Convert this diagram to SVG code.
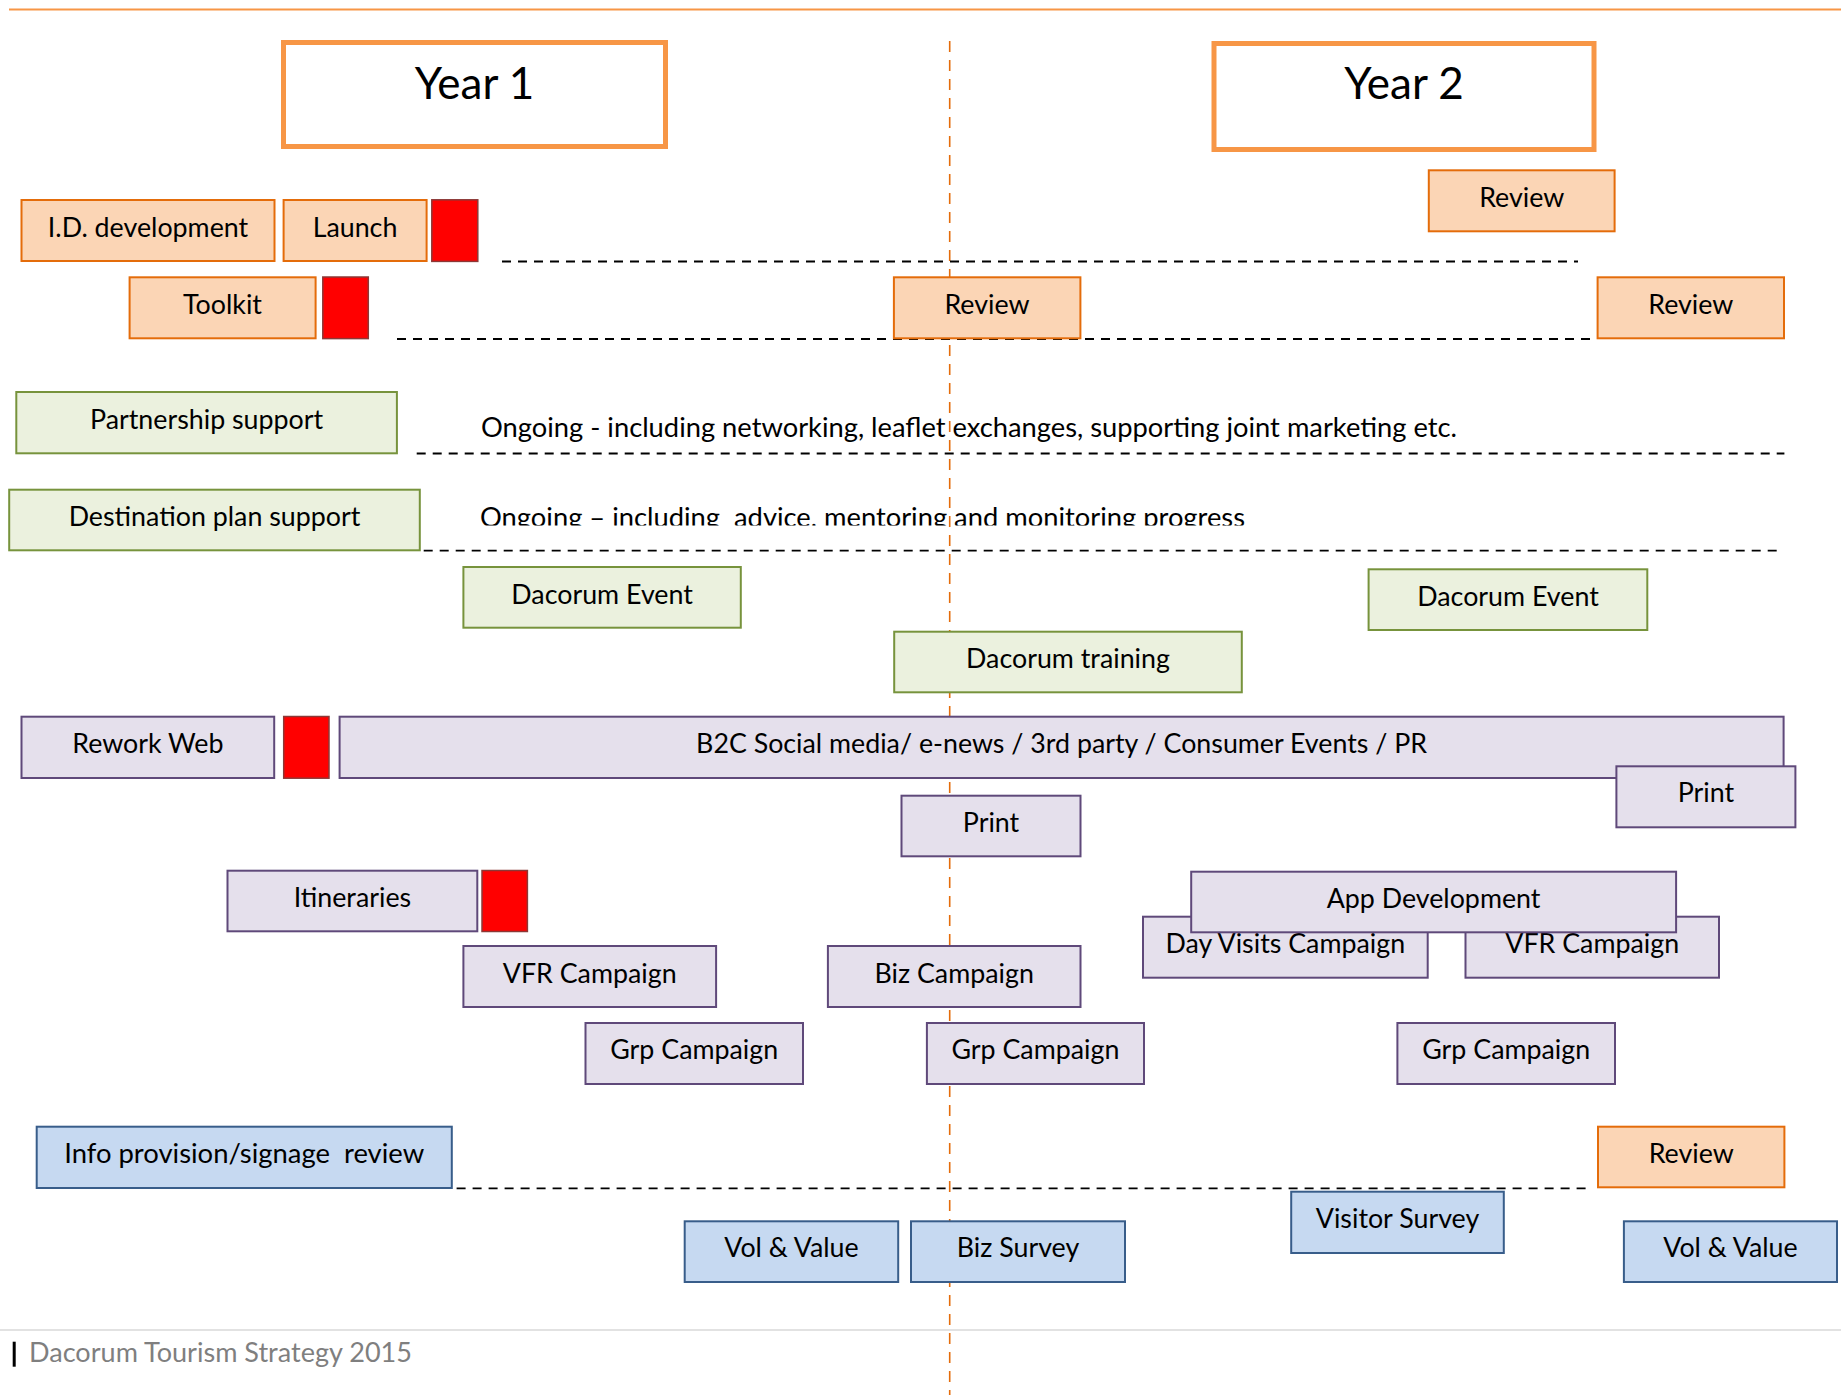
<svg xmlns="http://www.w3.org/2000/svg" width="1841" height="1395" viewBox="0 0 1841 1395">
<style>
.o{fill:#FBD5B5;stroke:#E46C0A;stroke-width:2}
.g{fill:#EBF1DE;stroke:#77933C;stroke-width:2}
.p{fill:#E5E0EC;stroke:#5F497A;stroke-width:2}
.b{fill:#C6D9F1;stroke:#385D8A;stroke-width:2}
.r{fill:#FF0000;stroke:#8C3836;stroke-width:1.5}
.yr{fill:#FFFFFF;stroke:#F79646;stroke-width:5}
.t{font-family:Lato,"Liberation Sans",sans-serif;font-size:26.8px;fill:#000;text-anchor:middle;white-space:pre}
.tl{font-family:Lato,"Liberation Sans",sans-serif;font-size:26.8px;fill:#000;white-space:pre}
.ty{font-family:Lato,"Liberation Sans",sans-serif;font-size:44px;fill:#000;text-anchor:middle}
.d{stroke:#000;stroke-width:1.8;stroke-dasharray:9 7;fill:none}
.v{stroke:#E46C0A;stroke-width:1.6;stroke-dasharray:11 8;fill:none}
</style>
<defs>
<clipPath id="clipOngoing2"><rect x="470" y="480" width="900" height="45.5"/></clipPath>
</defs>
<rect x="0" y="0" width="1841" height="1395" fill="#FFFFFF"/>
<line x1="9" y1="9.5" x2="1841" y2="9.5" stroke="#F79646" stroke-width="2"/>
<line x1="949.7" y1="41" x2="949.7" y2="1395" class="v"/>

<g id="connectors">
<line class="d" x1="502" y1="261.5" x2="1578" y2="261.5"/>
<line class="d" x1="397" y1="339" x2="1597" y2="339"/>
<line class="d" x1="416.7" y1="453.5" x2="1784.4" y2="453.5"/>
<line class="d" x1="423.7" y1="550.7" x2="1779.7" y2="550.7"/>
<line class="d" x1="456.6" y1="1188.3" x2="1590" y2="1188.3"/>
</g>

<g id="ongoing1"><text class="tl" x="481" y="437.3" textLength="976" lengthAdjust="spacingAndGlyphs">Ongoing - including networking, leaflet exchanges, supporting joint marketing etc.</text></g>
<g id="ongoing2" clip-path="url(#clipOngoing2)"><text class="tl" x="480" y="527" textLength="765" lengthAdjust="spacingAndGlyphs">Ongoing – including  advice, mentoring and monitoring progress</text></g>

<g id="year1"><rect class="yr" x="283.5" y="42.5" width="382" height="104"/><text class="ty" x="474.5" y="99">Year 1</text></g>
<g id="year2"><rect class="yr" x="1214" y="43.5" width="380" height="106"/><text class="ty" x="1404" y="99.3">Year 2</text></g>

<g id="id-development"><rect class="o" x="21.5" y="200" width="253" height="61"/><text class="t" x="148" y="236.7">I.D. development</text></g>
<g id="launch"><rect class="o" x="283.6" y="200" width="143" height="61"/><text class="t" x="355" y="236.7">Launch</text></g>
<g id="red1"><rect class="r" x="431.8" y="199.8" width="46" height="61.6"/></g>
<g id="review-top"><rect class="o" x="1428.8" y="170.3" width="185.8" height="61"/><text class="t" x="1521.7" y="206.8">Review</text></g>
<g id="toolkit"><rect class="o" x="129.6" y="277.3" width="186" height="61"/><text class="t" x="222.5" y="313.5">Toolkit</text></g>
<g id="red2"><rect class="r" x="322.8" y="277" width="45.5" height="61.6"/></g>
<g id="review-mid"><rect class="o" x="893.9" y="277.3" width="186.5" height="61"/><text class="t" x="987" y="313.5">Review</text></g>
<g id="review-right"><rect class="o" x="1597.6" y="277.3" width="186.4" height="61"/><text class="t" x="1690.8" y="313.5">Review</text></g>

<g id="partnership-support"><rect class="g" x="16.3" y="392" width="380.6" height="61.3"/><text class="t" x="206.6" y="428.5">Partnership support</text></g>
<g id="destination-plan-support"><rect class="g" x="9.2" y="489.7" width="410.6" height="60.6"/><text class="t" x="214.5" y="526">Destination plan support</text></g>
<g id="dacorum-event-1"><rect class="g" x="463.4" y="567" width="277.4" height="60.7"/><text class="t" x="602.1" y="603.5">Dacorum Event</text></g>
<g id="dacorum-training"><rect class="g" x="894.2" y="631.7" width="347.6" height="60.6"/><text class="t" x="1068" y="668.3">Dacorum training</text></g>
<g id="dacorum-event-2"><rect class="g" x="1368.6" y="569.3" width="278.7" height="60.7"/><text class="t" x="1508" y="605.7">Dacorum Event</text></g>

<g id="rework-web"><rect class="p" x="21.5" y="716.7" width="252.7" height="61.3"/><text class="t" x="147.9" y="753.3">Rework Web</text></g>
<g id="red3"><rect class="r" x="283.7" y="716.5" width="45.3" height="61.7"/></g>
<g id="b2c"><rect class="p" x="339.6" y="716.7" width="1444" height="61.3"/><text class="t" x="1061.6" y="753.3" textLength="731" lengthAdjust="spacingAndGlyphs">B2C Social media/ e-news / 3rd party / Consumer Events / PR</text></g>
<g id="print-right"><rect class="p" x="1616.4" y="766.3" width="179" height="61"/><text class="t" x="1705.9" y="801.7">Print</text></g>
<g id="print-mid"><rect class="p" x="901.5" y="795.7" width="179" height="60.6"/><text class="t" x="991" y="832.3">Print</text></g>
<g id="itineraries"><rect class="p" x="227.5" y="870.7" width="249.8" height="60.6"/><text class="t" x="352.4" y="907.3">Itineraries</text></g>
<g id="red4"><rect class="r" x="482" y="870.5" width="45.4" height="61"/></g>
<g id="day-visits-campaign"><rect class="p" x="1143" y="916.7" width="284.7" height="61"/><text class="t" x="1285.3" y="952.7">Day Visits Campaign</text></g>
<g id="vfr-campaign-2"><rect class="p" x="1465.5" y="916.7" width="253.5" height="61"/><text class="t" x="1592.2" y="952.7">VFR Campaign</text></g>
<g id="app-development"><rect class="p" x="1191.2" y="871.7" width="484.9" height="60.6"/><text class="t" x="1433.6" y="908.3">App Development</text></g>
<g id="vfr-campaign-1"><rect class="p" x="463.4" y="946" width="252.7" height="61"/><text class="t" x="589.7" y="982.7">VFR Campaign</text></g>
<g id="biz-campaign"><rect class="p" x="827.9" y="946" width="252.6" height="61"/><text class="t" x="954.2" y="982.7">Biz Campaign</text></g>
<g id="grp-campaign-1"><rect class="p" x="585.5" y="1023" width="217.5" height="61"/><text class="t" x="694.2" y="1059.3">Grp Campaign</text></g>
<g id="grp-campaign-2"><rect class="p" x="926.9" y="1023" width="217.1" height="61"/><text class="t" x="1035.4" y="1059.3">Grp Campaign</text></g>
<g id="grp-campaign-3"><rect class="p" x="1397.4" y="1023" width="217.6" height="61"/><text class="t" x="1506.2" y="1059.3">Grp Campaign</text></g>

<g id="info-provision"><rect class="b" x="36.7" y="1126.7" width="415.1" height="61.3"/><text class="t" x="244.2" y="1163.3" textLength="360" lengthAdjust="spacingAndGlyphs">Info provision/signage  review</text></g>
<g id="review-bottom"><rect class="o" x="1598" y="1126.7" width="186.4" height="60.6"/><text class="t" x="1691.2" y="1162.5">Review</text></g>
<g id="visitor-survey"><rect class="b" x="1291.2" y="1191.7" width="212.6" height="61.3"/><text class="t" x="1397.5" y="1228.3">Visitor Survey</text></g>
<g id="vol-value-1"><rect class="b" x="684.7" y="1221.3" width="213.5" height="60.7"/><text class="t" x="791.5" y="1256.7">Vol &amp; Value</text></g>
<g id="biz-survey"><rect class="b" x="911" y="1221.3" width="214" height="60.7"/><text class="t" x="1018" y="1256.7">Biz Survey</text></g>
<g id="vol-value-2"><rect class="b" x="1623.9" y="1221.3" width="213.1" height="60.7"/><text class="t" x="1730.5" y="1256.7">Vol &amp; Value</text></g>

<g id="footer">
<line x1="0" y1="1330" x2="1841" y2="1330" stroke="#D9D9D9" stroke-width="1.5"/>
<rect x="12.7" y="1341.7" width="3" height="25" fill="#000"/>
<text class="tl" x="29" y="1361.7" style="fill:#7F7F7F" textLength="383" lengthAdjust="spacingAndGlyphs">Dacorum Tourism Strategy 2015</text>
</g>
</svg>
